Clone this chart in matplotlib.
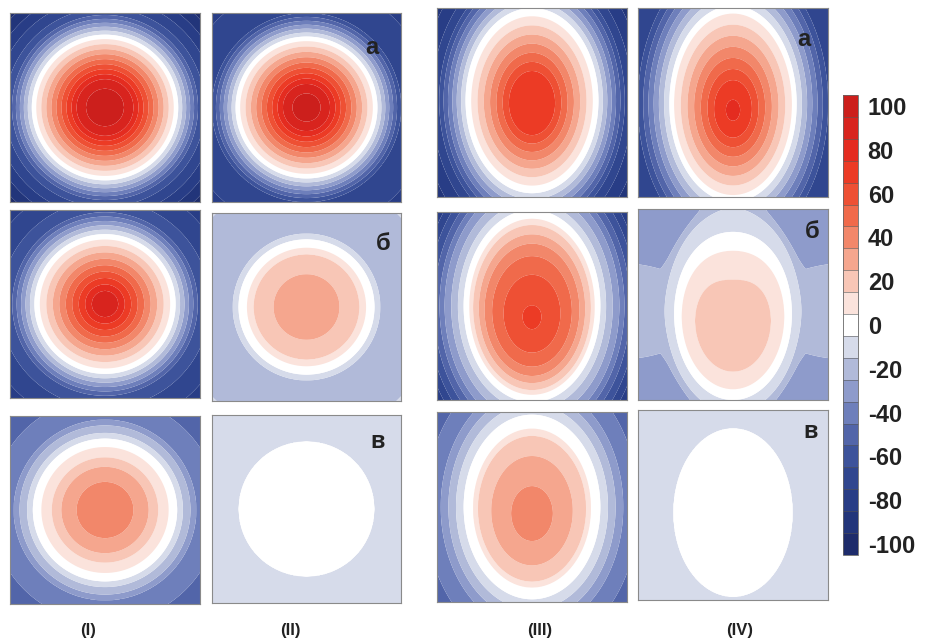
import numpy as np
import matplotlib.pyplot as plt
from matplotlib.colors import ListedColormap, BoundaryNorm
from matplotlib.cm import ScalarMappable

plt.rcParams['font.family'] = ['Liberation Sans', 'DejaVu Sans']
plt.rcParams['axes.unicode_minus'] = False

# colour scale: 21 bands centred on -100, -90, ..., 100
levels = np.arange(-105, 106, 10)
band_colors = ['#1e2c6b', '#22357a', '#283d86', '#30468f', '#3d539b', '#5265a9',
               '#6e7fbb', '#8e9bcb', '#b1bad9', '#d6dbea', '#ffffff', '#fbe3dc',
               '#f8c6b6', '#f5a68e', '#f2876a', '#f06a4b', '#ee5034', '#ec3b25',
               '#e42c20', '#d8241e', '#cc1f1c']
cbar_ticks = np.arange(-100, 101, 20)

col_labels = ['(I)', '(II)', '(III)', '(IV)']
row_letters = ['а', 'б', 'в']

# radial profiles: distance from centre (half width = 1) -> value
Ia_r = [0, 0.2, 0.3, 0.75, 1.0, 1.42]
Ia_v = [100, 95, 85, 0, -60, -100]
IIa_r = [0, 0.15, 0.25, 0.73, 1.0, 1.42]
IIa_v = [100, 95, 85, 0, -65, -78]
IIIa_r = [0, 0.23, 0.64, 0.70, 1.0, 1.25]
IIIa_v = [73, 67, 5, -5, -70, -92]
IVa_r = [0, 0.15, 0.62, 0.67, 1.0, 1.25]
IVa_v = [78, 72, 5, -5, -65, -75]

Ib_r = [0, 0.14, 0.72, 1.0, 1.42]
Ib_v = [92, 85, 0, -60, -80]
IIb_r = [0, 0.35, 0.56, 0.63, 0.72, 0.78, 0.86, 1.25, 1.38, 1.42]
IIb_v = [33, 25, 15, 5, -5, -15, -21, -23, -15, -12]
IIIb_r = [0, 0.1, 0.3, 0.42, 0.5, 0.56, 0.62, 0.66, 0.72, 0.78, 0.85, 0.92, 1.0, 1.2]
IIIb_v = [68, 65, 55, 45, 35, 25, 15, 5, -5, -15, -25, -35, -50, -80]
IVb_r = [0, 0.40, 0.45, 0.54, 0.62, 0.68, 0.78, 1.4]
IVb_v = [22, 15, 12, 5, -5, -13, -18, -22]

Ic_r = [0, 0.30, 0.46, 0.56, 0.67, 0.76, 0.82, 0.9, 0.96, 1.2, 1.42]
Ic_v = [44, 35, 25, 15, 5, -5, -15, -25, -35, -45, -52]
IIc_r = [0, 0.72, 0.76, 1.42]
IIc_v = [3, -5, -8, -11]
IIIc_r = [0, 0.22, 0.43, 0.57, 0.62, 0.72, 0.80, 0.88, 0.96, 1.05, 1.3]
IIIc_v = [42, 35, 25, 15, 5, -5, -15, -25, -35, -42, -52]
IVc_r = [0, 0.63, 0.68, 1.4]
IVc_v = [3, -5, -8, -11]

# shape: (outer y-stretch, inner y-stretch, outer centre y, inner centre y, side lobes)
shape_Ia = (1.0, 1.0, 0.0, 0.0, 0)
shape_IIa = (1.0, 1.0, 0.0, 0.0, 0)
shape_IIIa = (1.4, 1.4, -0.02, 0.02, 0)
shape_IVa = (1.55, 1.55, 0.01, 0.09, 0)
shape_Ib = (1.0, 1.0, 0.0, 0.0, 0)
shape_IIb = (1.0, 1.0, 0.0, 0.0, 0)
shape_IIIb = (1.42, 1.42, 0.0, 0.14, 0)
shape_IVb = (1.5, 1.12, 0.07, 0.31, -15)
shape_Ic = (1.0, 1.0, 0.0, 0.0, 0)
shape_IIc = (1.0, 1.0, 0.0, 0.0, 0)
shape_IIIc = (1.35, 1.35, 0.0, 0.1, 0)
shape_IVc = (1.41, 1.41, 0.08, 0.08, 0)

panels = [
    [(Ia_r, Ia_v, shape_Ia), (IIa_r, IIa_v, shape_IIa), (IIIa_r, IIIa_v, shape_IIIa), (IVa_r, IVa_v, shape_IVa)],
    [(Ib_r, Ib_v, shape_Ib), (IIb_r, IIb_v, shape_IIb), (IIIb_r, IIIb_v, shape_IIIb), (IVb_r, IVb_v, shape_IVb)],
    [(Ic_r, Ic_v, shape_Ic), (IIc_r, IIc_v, shape_IIc), (IIIc_r, IIIc_v, shape_IIIc), (IVc_r, IVc_v, shape_IVc)],
]

W, H = 933, 641
col_x = [(10, 200), (212, 401), (437, 627), (638, 828)]
row_y = [[(13, 202), (13, 202), (8, 197), (8, 197)],
         [(210, 398), (213, 401), (212, 400), (209, 400)],
         [(416, 604), (415, 603), (412, 602), (410, 600)]]
letter_pos = [[(372, 48), (804, 39)], [(383, 244), (812, 232)], [(378, 442), (811, 431)]]
label_x = [88, 290, 540, 740]


def make_field(r_k, v_k, shp):
    ay_o, ay_i, yc_o, yc_i, lobe = shp
    g = np.linspace(-1, 1, 301)
    X, Y = np.meshgrid(g, g)
    r1 = np.hypot(X, (Y - yc_o) / ay_o)
    t = np.clip(r1 / 0.7, 0, 1)
    ay = ay_i + (ay_o - ay_i) * t
    yc = yc_i + (yc_o - yc_i) * t
    rho = np.hypot(X, (Y - yc) / ay)
    Z = np.interp(rho, r_k, v_k)
    if lobe:
        phi = np.arctan2(X, -(Y - yc) / ay)
        Z = Z + lobe * np.sin(2 * phi) ** 2 * np.clip((rho - 0.7) / 0.12, 0, 1)
    return X, Y, np.clip(Z, -104, 104)


cmap = ListedColormap(band_colors)
norm = BoundaryNorm(levels, cmap.N)

fig = plt.figure(figsize=(W / 100, H / 100), dpi=100)

for i in range(3):
    for j in range(4):
        x0, x1 = col_x[j]
        y0, y1 = row_y[i][j]
        ax = fig.add_axes([x0 / W, 1 - y1 / H, (x1 - x0) / W, (y1 - y0) / H])
        X, Y, Z = make_field(*panels[i][j])
        ax.contourf(X, Y, Z, levels=levels, cmap=cmap, norm=norm, antialiased=True)
        ax.set_xlim(-1, 1)
        ax.set_ylim(1, -1)
        ax.set_xticks([])
        ax.set_yticks([])
        for s in ax.spines.values():
            s.set_color('#8a8a8a')
            s.set_linewidth(0.8)
    for lx, ly in letter_pos[i]:
        fig.text(lx / W, 1 - ly / H, row_letters[i], ha='center', va='center',
                 fontsize=17, fontweight='bold', color='#222222')

for lab, lx in zip(col_labels, label_x):
    fig.text(lx / W, 1 - 631 / H, lab, ha='center', va='center',
             fontsize=12, fontweight='bold', color='#222222')

cax = fig.add_axes([843 / W, 1 - 555 / H, 15 / W, 460 / H])
sm = ScalarMappable(norm=norm, cmap=cmap)
cb = fig.colorbar(sm, cax=cax, ticks=cbar_ticks, drawedges=True)
cb.dividers.set_color('#555555')
cb.dividers.set_linewidth(0.4)
cb.outline.set_linewidth(0.6)
cb.outline.set_edgecolor('#666666')
cax.minorticks_off()
cax.tick_params(which='both', length=0, pad=7)
for t in cax.get_yticklabels():
    t.set_fontsize(17)
    t.set_fontweight('bold')
    t.set_color('#222222')

fig.savefig('out.png', dpi=100)
